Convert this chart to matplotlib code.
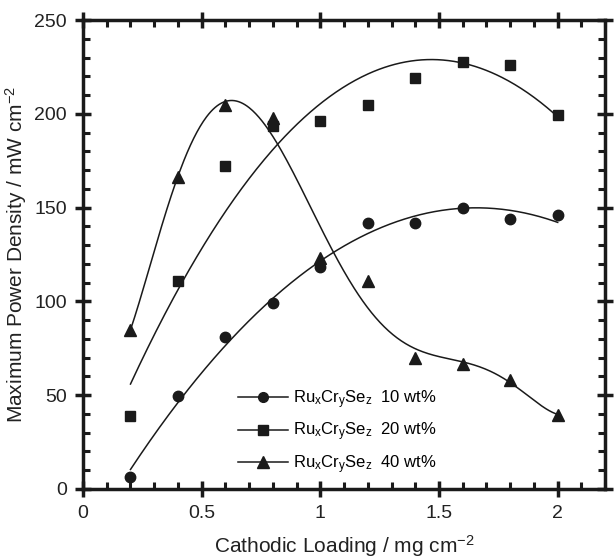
import numpy as np
import matplotlib
matplotlib.use("Agg")
import matplotlib.pyplot as plt
from matplotlib.ticker import MultipleLocator

plt.rcParams['font.family'] = ['Liberation Sans', 'DejaVu Sans']
plt.rcParams['mathtext.fontset'] = 'custom'
plt.rcParams['mathtext.rm'] = 'Liberation Sans'
plt.rcParams['mathtext.it'] = 'Liberation Sans'
plt.rcParams['mathtext.default'] = 'regular'

# Data
loading = [0.2, 0.4, 0.6, 0.8, 1.0, 1.2, 1.4, 1.6, 1.8, 2.0]
pd_10wt = [6.4, 49.4, 81, 99, 118.5, 142, 142, 150, 144, 146]
pd_20wt = [39, 111, 172, 193.5, 196.3, 204.7, 219.2, 227.8, 226, 199.4]
pd_40wt = [85, 166.5, 204.5, 197.6, 123, 111, 69.7, 66.6, 58.1, 39.4]
fit_degree = [2, 2, 6]
labels = [r"Ru$_{x}$Cr$_{y}$Se$_{z}$  10 wt%",
          r"Ru$_{x}$Cr$_{y}$Se$_{z}$  20 wt%",
          r"Ru$_{x}$Cr$_{y}$Se$_{z}$  40 wt%"]
x_ticklabels = ['0', '0.5', '1', '1.5', '2']

x = np.array(loading)

fig = plt.figure(figsize=(6.15, 5.6), dpi=100)
ax = fig.add_axes([0.135, 0.127, 0.849, 0.837])

col = '#1a1a1a'
xs = np.linspace(loading[0], loading[-1], 400)
markers = [('o', 7.5), ('s', 7.5), ('^', 8.5)]
handles = []
for ys, deg, (m, ms) in zip((pd_10wt, pd_20wt, pd_40wt), fit_degree, markers):
    c = np.polyfit(x, ys, deg)
    ax.plot(xs, np.polyval(c, xs), color=col, lw=1.1)
    ax.plot(x, ys, m, color=col, ms=ms, ls='none')
    handles.append(ax.plot([], [], marker=m, color=col, ms=ms - 0.5, lw=1.1)[0])

ax.legend(handles, labels, loc='lower left', bbox_to_anchor=(0.297, 0.028),
          frameon=False, fontsize=12, handlelength=3.0, labelspacing=0.6,
          handletextpad=0.3, borderpad=0, borderaxespad=0)

ax.set_xlim(0, 2.2)
ax.set_ylim(0, 250)
ax.xaxis.set_minor_locator(MultipleLocator(0.1))
ax.yaxis.set_major_locator(MultipleLocator(50))
ax.yaxis.set_minor_locator(MultipleLocator(10))
ax.set_xticks([0, 0.5, 1, 1.5, 2])
ax.set_xticklabels(x_ticklabels)

for s in ax.spines.values():
    s.set_linewidth(2.5)
    s.set_color(col)
ax.tick_params(which='major', direction='inout', length=11, width=2.5,
               top=True, right=True, color=col, labelsize=14,
               labelcolor='#222222', pad=6)
ax.tick_params(which='minor', direction='in', length=5, width=2.2,
               top=True, right=True, color=col)

ax.set_xlabel(r"Cathodic Loading / mg cm$^{-2}$", fontsize=15,
              color='#222222', labelpad=8)
ax.set_ylabel(r"Maximum Power Density / mW cm$^{-2}$", fontsize=15,
              color='#222222', labelpad=4)

fig.savefig('out.png', dpi=100)
